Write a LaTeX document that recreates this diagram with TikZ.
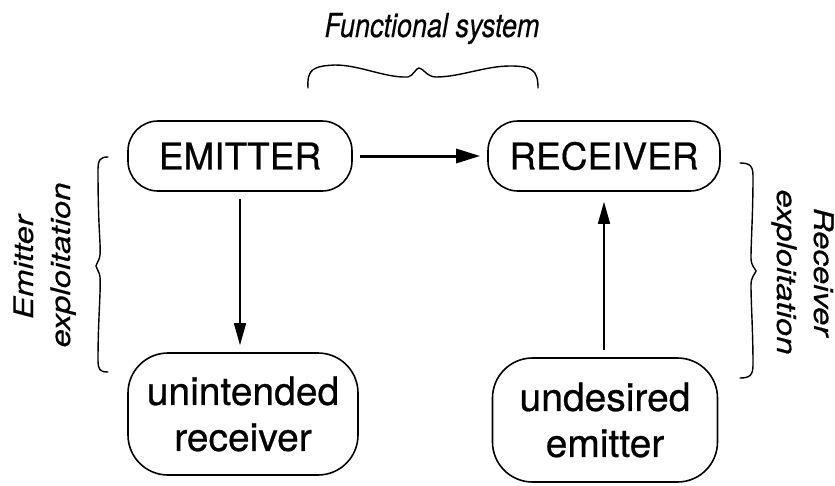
\documentclass[tikz,border=0pt]{standalone}
\usepackage{fontspec}
\setmainfont{TeX Gyre Heros}
\newfontfamily\heavyfont{TeX Gyre Heros}[FakeBold=0.6]
\newfontfamily\heavyitfont{TeX Gyre Heros Italic}[FakeBold=0.4]
\usetikzlibrary{arrows.meta}

\begin{document}
\begin{tikzpicture}[x=1pt,y=-1pt,
  box/.style={draw, line width=1.6pt, inner sep=0pt, align=center},
  topbox/.style={box, rounded corners=30pt, minimum height=70pt,
    font=\heavyfont\fontsize{37}{44}\selectfont},
  lowbox/.style={box, rounded corners=40pt,
    font=\heavyfont\fontsize{39}{46}\selectfont},
  link/.style={-{Triangle[length=22pt,width=12pt]}, line width=1.5pt,
    shorten <=7pt, shorten >=7pt},
  bracket/.style={line width=1.4pt, line cap=round},
  note/.style={inner sep=0pt, font=\heavyitfont\fontsize{27}{32}\selectfont}
]
\useasboundingbox[fill=white] (0,0) rectangle (835,485);

% the four parties
\node[topbox, minimum width=224pt] (emitter)  at (240,156) {EMITTER};
\node[topbox, minimum width=232pt] (receiver) at (604,156) {RECEIVER};
\node[lowbox, minimum width=230pt, minimum height=122pt] (unintended) at (243,414)
  {unintended\\receiver};
\node[lowbox, minimum width=225pt, minimum height=124pt] (undesired) at (605,420)
  {undesired\\emitter};

% signals
\draw[link, line width=3pt, -{Triangle[length=24pt,width=14pt]}] (emitter) -- (receiver);
\draw[link] (emitter.south) -- (emitter.south |- unintended.north);
\draw[link, shorten >=10pt] (receiver.south |- undesired.north) -- (receiver.south);

% braces
\draw[bracket] (308,88) .. controls (307,70) and (312,66) .. (335,65)
  .. controls (360,65) and (385,78) .. (408,77)
  .. controls (413,76) and (416,68) .. (419,68)
  .. controls (423,68) and (427,77) .. (436,77)
  .. controls (460,77) and (485,66) .. (510,66)
  .. controls (532,66) and (538,70) .. (538,88);
\draw[bracket] (108,157) .. controls (100,157) and (98,160) .. (98,170)
  .. controls (98,230) and (101,245) .. (100,255)
  .. controls (99,262) and (96,263) .. (96,266)
  .. controls (96,269) and (99,270) .. (100,277)
  .. controls (101,290) and (98,320) .. (98,360)
  .. controls (98,370) and (100,372) .. (108,372);
\draw[bracket] (740,163) .. controls (750,163) and (753,166) .. (753,176)
  .. controls (753,215) and (751,240) .. (751,258)
  .. controls (751,266) and (755,268) .. (756,271)
  .. controls (755,274) and (751,277) .. (751,285)
  .. controls (751,305) and (753,330) .. (753,365)
  .. controls (753,375) and (750,378) .. (740,378);

% captions
\node[note, anchor=base] (functional) at (432,37) {\scalebox{1}[1.22]{Functional system}};
\node[note, rotate=90, anchor=base] (emitterA) at (33,267) {\scalebox{1.22}[1]{Emitter}};
\node[note, rotate=90, anchor=base] (emitterB) at (70,265) {\scalebox{1.22}[1]{exploitation}};
\node[note, rotate=-90, anchor=base] (receiverA) at (814,272) {\scalebox{1.22}[1]{Receiver}};
\node[note, rotate=-90, anchor=base] (receiverB) at (777,272) {\scalebox{1.22}[1]{exploitation}};
\end{tikzpicture}
\end{document}
